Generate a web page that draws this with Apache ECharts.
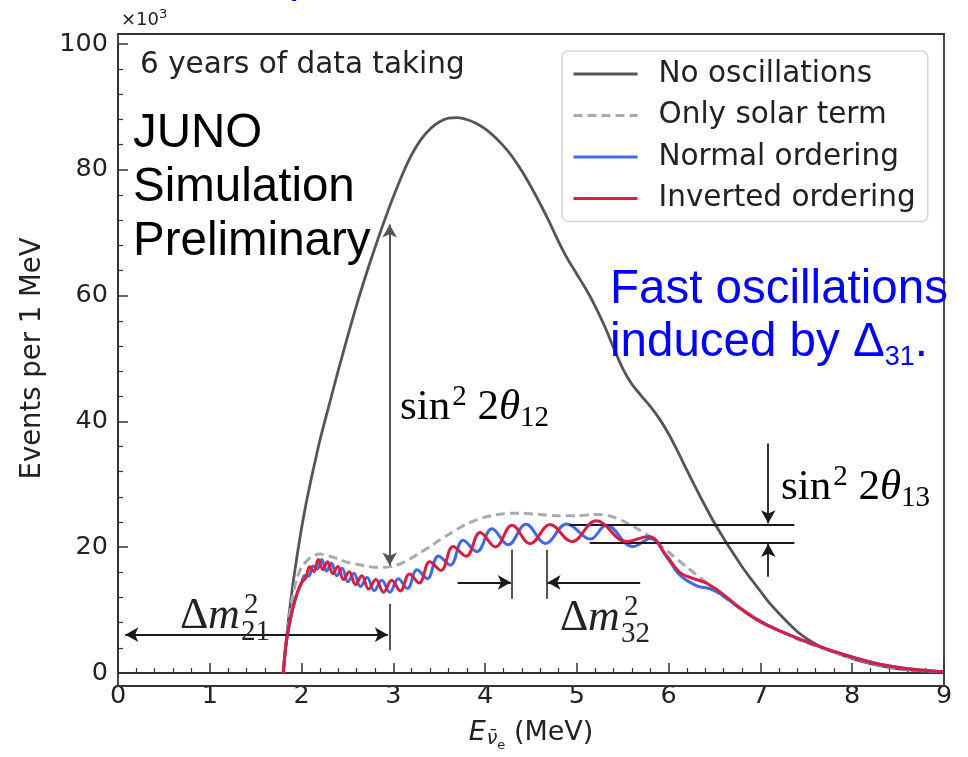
<!DOCTYPE html>
<html><head><meta charset="utf-8">
<script src="https://cdn.jsdelivr.net/npm/echarts@6/dist/echarts.min.js"></script>
<style>html,body{margin:0;padding:0;background:#fff}#c{width:968px;height:757px}</style>
</head><body><div id="c"></div>
<script>
// ---- data (E in MeV, events per 1 MeV in units of 10^3) ----
const xTickValues = [0,1,2,3,4,5,6,7,8,9];
const yTickValues = [0,20,40,60,80,100];
const seriesNames = ['No oscillations','Only solar term','Normal ordering','Inverted ordering'];

const noOscillations = [
 [1.8,0],[1.85,7.5],[1.9,13.5],[1.95,18.5],[2.0,23],[2.05,27],[2.1,30.5],[2.15,33.8],[2.2,37],[2.3,42.6],
 [2.4,48.1],[2.5,53.4],[2.6,58.5],[2.7,63.2],[2.8,67.6],[2.9,71.8],[3.0,75.7],[3.1,79.3],[3.2,82.4],
 [3.3,84.8],[3.4,86.5],[3.5,87.6],[3.6,88.2],[3.7,88.3],[3.8,88.0],[3.9,87.4],[4.0,86.5],[4.1,85.3],
 [4.2,83.8],[4.3,82.0],[4.4,79.8],[4.5,77.3],[4.6,74.6],[4.7,71.7],[4.8,68.6],[4.9,65.8],[5.0,63.4],
 [5.1,61.0],[5.2,58.3],[5.3,55.2],[5.4,51.7],[5.5,48.4],[5.6,45.9],[5.7,44.1],[5.8,42.4],[5.9,40.4],
 [6.0,38.0],[6.1,35.2],[6.2,32.2],[6.3,29.3],[6.4,26.5],[6.5,23.8],[6.6,21.4],[6.7,19.1],[6.8,16.9],
 [6.9,14.9],[7.0,13.0],[7.1,11.1],[7.2,9.5],[7.3,8.0],[7.4,6.6],[7.5,5.5],[7.6,4.6],[7.7,3.9],[7.8,3.3],
 [7.9,2.8],[8.0,2.3],[8.2,1.5],[8.4,0.9],[8.6,0.5],[8.8,0.3],[9.0,0.2]
];
const onlySolarTerm = [
 [1.8,0],[1.85,7],[1.9,12],[1.95,15],[2.0,16.8],[2.1,18.4],[2.2,18.9],[2.3,18.6],[2.4,18.1],[2.5,17.6],
 [2.6,17.3],[2.7,17.0],[2.8,16.8],[2.9,16.8],[3.0,17.0],[3.1,17.5],[3.2,18.3],[3.3,19.2],[3.4,20.1],
 [3.5,21.1],[3.6,22.0],[3.7,22.9],[3.8,23.7],[3.9,24.3],[4.0,24.8],[4.1,25.1],[4.2,25.3],[4.3,25.4],
 [4.4,25.4],[4.6,25.2],[4.8,25.0],[5.0,25.0],[5.2,25.2],[5.35,25.0],[5.5,24.2],[5.65,23.0],[5.8,21.6],
 [5.9,20.4],[6.0,19.2],[6.2,16.8],[6.4,14.5],[6.6,12.1],[6.8,10.0],[7.0,8.3],[7.2,6.8],[7.4,5.4],
 [7.6,4.3],[7.8,3.3],[8.0,2.4],[8.2,1.6],[8.4,1.0],[8.6,0.6],[8.8,0.35],[9.0,0.2]
];
const normalOrdering = [
 [1.8,0],[1.83,4.5],[1.86,7.2],[1.9,10],[1.95,12.6],[2.0,14.3],[2.035,15.5],[2.078,15.4],[2.124,17.0],
 [2.171,16.55],[2.22,18.05],[2.272,16.2],[2.326,17.45],[2.383,15.45],[2.442,16.65],[2.505,14.5],
 [2.571,15.85],[2.641,13.75],[2.714,15.2],[2.792,13.1],[2.874,14.75],[2.961,12.85],[3.054,15.0],
 [3.153,13.45],[3.258,16.4],[3.37,15.0],[3.491,18.6],[3.62,17.15],[3.76,21.1],[3.91,19.3],[4.074,22.95],
 [4.251,20.4],[4.445,23.65],[4.657,20.6],[4.89,23.7],[5.148,21.3],[5.32,23.5],[5.61,20.1],[5.8,21.4],
 [5.98,18.4],[6.12,15.6],[6.3,13.9],[6.45,13.4],[6.56,12.6],[6.78,10.3],[6.99,8.3],[7.21,6.7],
 [7.57,4.6],[7.94,2.8],[8.3,1.4],[8.66,0.6],[9.0,0.2]
];
const invertedOrdering = [
 [1.8,0],[1.83,4.5],[1.86,7.2],[1.9,10],[1.95,12.6],[2.0,14.4],[2.045,15.1],[2.088,16.9],[2.134,16.1],
 [2.182,18.05],[2.232,16.45],[2.284,17.7],[2.339,15.8],[2.396,16.95],[2.456,14.85],[2.52,16.1],
 [2.587,14.05],[2.657,15.45],[2.731,13.35],[2.81,14.85],[2.893,12.85],[2.982,14.75],[3.076,13.05],
 [3.176,15.75],[3.282,14.3],[3.397,17.7],[3.519,16.3],[3.651,20.1],[3.793,18.55],[3.946,22.35],
 [4.112,20.05],[4.293,23.5],[4.491,20.55],[4.707,23.6],[4.946,20.9],[5.21,24.2],[5.54,20.9],[5.78,21.7],
 [5.98,18.6],[6.12,16.0],[6.27,15.0],[6.41,14.3],[6.56,12.9],[6.78,10.3],[6.99,8.2],[7.21,6.7],
 [7.57,4.6],[7.94,2.8],[8.3,1.4],[8.66,0.6],[9.0,0.2]
];

// ---- chart ----
const chart = echarts.init(document.getElementById('c'), null, {renderer:'canvas'});
const INK = '#222';
const SANS = 'DejaVu Sans';
const SERIF = 'Liberation Serif';
const ARROW = '#1a1a1a';

function arrow(x1,y1,x2,y2,startSym,endSym,color,width){
  return [{coord:[x1,y1], symbol:startSym, lineStyle:{color:color||ARROW,width:width||1.8,type:'solid'}},
          {coord:[x2,y2], symbol:endSym}];
}

const mathRich = {
  r:{fontFamily:SERIF,fontSize:43,color:INK},
  it:{fontFamily:SERIF,fontSize:43,fontStyle:'italic',color:INK},
  sup:{fontFamily:SERIF,fontSize:29,color:INK,padding:[0,0,22,2]},
  sub:{fontFamily:SERIF,fontSize:29,color:INK,padding:[20,0,0,0]}
};

function mtext(x,y,text,size,family,color,extra){
  return {type:'text', silent:true, z:50, style:Object.assign({x:x,y:y,text:text,fill:color||INK,
    font:(size)+'px "'+family+'"', align:'left', verticalAlign:'middle'}, extra||{})};
}

const option = {
  animation:false,
  backgroundColor:'#ffffff',
  grid:{left:118,right:24,top:44,bottom:71,containLabel:false},
  legend:{
    orient:'vertical', left:562, top:51,
    data:seriesNames,
    itemWidth:64, itemHeight:2, itemGap:11.5,
    padding:[8,12,8,10],
    backgroundColor:'#ffffff', borderColor:'#d6d6d6', borderWidth:1.5, borderRadius:6,
    lineStyle:{width:3},
    itemStyle:{opacity:0},
    textStyle:{fontFamily:SANS,fontSize:29.5,color:INK,lineHeight:30,padding:[0,0,0,16]},
    selectedMode:false
  },
  xAxis:{
    type:'value', min:0, max:9, interval:1,
    name:'{e|E}{nu|ν̄}{sb|e}{m| (MeV)}', nameLocation:'middle', nameGap:40,
    nameTextStyle:{rich:{
      e:{fontFamily:SANS,fontSize:27,fontStyle:'italic',color:INK},
      nu:{fontFamily:SANS,fontSize:19,fontStyle:'italic',color:INK,padding:[14,0,0,1]},
      sb:{fontFamily:SANS,fontSize:13,color:INK,padding:[26,0,0,0]},
      m:{fontFamily:SANS,fontSize:27,color:INK}
    }},
    axisLine:{show:true,onZero:false,lineStyle:{color:'#333',width:1.8}},
    axisTick:{show:true,inside:true,length:10,lineStyle:{color:'#333',width:1.5}},
    minorTick:{show:true,splitNumber:5,length:5,lineStyle:{color:'#333',width:1.2}},
    axisLabel:{fontFamily:SANS,fontSize:25.5,color:INK,margin:10},
    splitLine:{show:false}, minorSplitLine:{show:false}
  },
  yAxis:{
    type:'value', min:0, max:100, interval:20,
    name:'Events per 1 MeV', nameLocation:'middle', nameGap:71, nameRotate:90,
    nameTextStyle:{fontFamily:SANS,fontSize:27.5,color:INK},
    axisLine:{show:true,onZero:false,lineStyle:{color:'#333',width:1.8}},
    axisTick:{show:true,inside:true,length:10,lineStyle:{color:'#333',width:1.5}},
    minorTick:{show:true,splitNumber:5,length:5,lineStyle:{color:'#333',width:1.2}},
    axisLabel:{fontFamily:SANS,fontSize:25.5,color:INK,margin:10},
    splitLine:{show:false}, minorSplitLine:{show:false}
  },
  series:[
    {name:seriesNames[0], type:'line', data:noOscillations, symbol:'none', smooth:0.35, z:2,
     lineStyle:{color:'#555555',width:2.8}, itemStyle:{color:'#555555'}},
    {name:seriesNames[1], type:'line', data:onlySolarTerm, symbol:'none', smooth:0.3, z:3,
     lineStyle:{color:'#aaaaaa',width:3,type:[9,5]}, itemStyle:{color:'#aaaaaa'}},
    {name:seriesNames[2], type:'line', data:normalOrdering, symbol:'none', smooth:0.4, z:4,
     lineStyle:{color:'#4169e1',width:3}, itemStyle:{color:'#4169e1'}},
    {name:seriesNames[3], type:'line', data:invertedOrdering, symbol:'none', smooth:0.4, z:5,
     lineStyle:{color:'#d81e45',width:3}, itemStyle:{color:'#d81e45'}},
    {name:'annotations', type:'line', data:[], z:6, silent:true,
     markLine:{silent:true, animation:false, symbolSize:[11,13], label:{show:false},
       lineStyle:{type:'solid'},
       emphasis:{disabled:true},
       data:[
         arrow(2.96,71.3,2.96,17.1,'arrow','arrow','#555',2),
         arrow(0.08,6.1,2.94,6.1,'arrow','arrow'),
         arrow(2.96,11.0,2.96,3.6,'none','none','#555',2),
         arrow(4.29,19.6,4.29,11.8,'none','none','#555',2),
         arrow(4.67,19.6,4.67,11.8,'none','none','#555',2),
         arrow(3.70,14.4,4.28,14.4,'none','arrow'),
         arrow(5.69,14.4,4.68,14.4,'none','arrow'),
         arrow(4.92,23.6,7.37,23.6,'none','none'),
         arrow(5.14,20.7,7.37,20.7,'none','none'),
         arrow(7.085,36.5,7.085,23.8,'none','arrow'),
         arrow(7.085,15.3,7.085,20.5,'none','arrow')
       ]}}
  ],
  graphic:[
    {type:'rect', silent:true, z:40, shape:{x:118,y:34,width:826,height:652},
     style:{fill:'none',stroke:'#333',lineWidth:1.8}},
    mtext(289,-22,'p',46,'Liberation Sans','#0000ff'),
    {type:'text', silent:true, z:50, style:{x:121,y:20,text:'×10{s|3}',verticalAlign:'middle',
      font:'18px "DejaVu Sans"', fill:INK,
      rich:{s:{fontFamily:SANS,fontSize:13,color:INK,padding:[0,0,10,0]}}}},
    mtext(140,65,'6 years of data taking',29.5,SANS,INK),
    mtext(133,134,'JUNO',47.5,'Liberation Sans','#000'),
    mtext(133,188,'Simulation',47.5,'Liberation Sans','#000'),
    mtext(133,242,'Preliminary',47.5,'Liberation Sans','#000'),
    mtext(610,290,'Fast oscillations',47.5,'Liberation Sans','#0000ff'),
    {type:'text', silent:true, z:50, style:{x:610,y:343,text:'induced by Δ{s|31}.',verticalAlign:'middle',
      font:'47.5px "Liberation Sans"', fill:'#0000ff',
      rich:{s:{fontFamily:'Liberation Sans',fontSize:27,color:'#0000ff',padding:[30,0,0,0]}}}},
    {type:'text', silent:true, z:50, style:{x:400,y:408,text:'{r|sin}{sup|2}{r| 2}{it|θ}{sub|12}',
      verticalAlign:'middle', rich:mathRich}},
    {type:'text', silent:true, z:50, style:{x:781,y:488,text:'{r|sin}{sup|2}{r| 2}{it|θ}{sub|13}',
      verticalAlign:'middle', rich:mathRich}},
    mtext(180,616,'Δ',44,SERIF,INK),
    mtext(208,616,'m',44,SERIF,INK,{font:'italic 44px "Liberation Serif"'}),
    mtext(244,605,'2',29,SERIF,INK),
    mtext(241,632,'21',29,SERIF,INK),
    mtext(560,618,'Δ',44,SERIF,INK),
    mtext(588,618,'m',44,SERIF,INK,{font:'italic 44px "Liberation Serif"'}),
    mtext(624,607,'2',29,SERIF,INK),
    mtext(621,634,'32',29,SERIF,INK)
  ]
};
chart.setOption(option);
</script></body></html>
